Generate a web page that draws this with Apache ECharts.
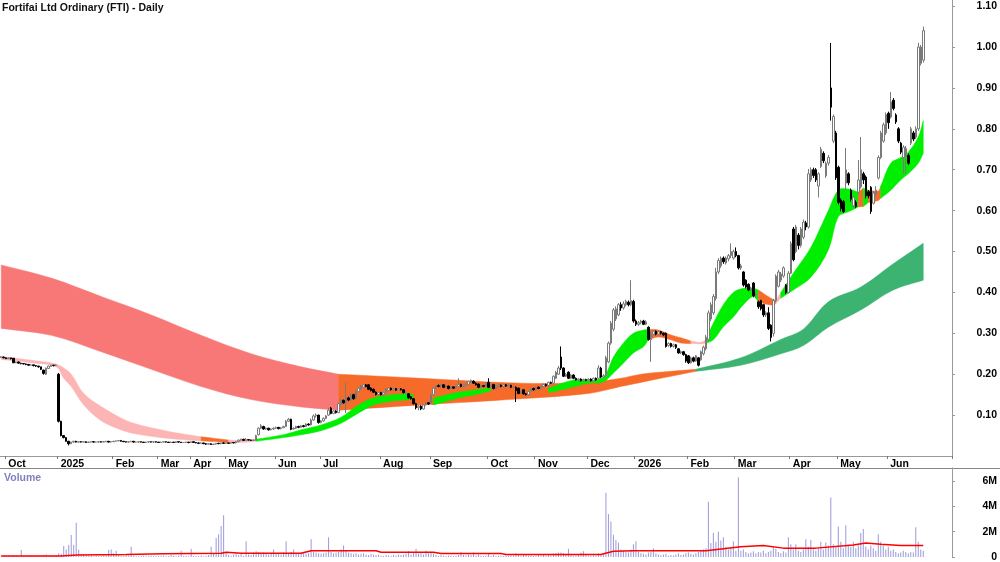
<!DOCTYPE html>
<html>
<head>
<meta charset="utf-8">
<title>Fortifai Ltd Ordinary (FTI) - Daily</title>
<script src="https://cdn.jsdelivr.net/npm/echarts@6.0.0/dist/echarts.min.js"></script>
<style>
  html, body { margin: 0; padding: 0; background: #fff; }
  #chart { width: 1000px; height: 562px; }
</style>
</head>
<body>
<div id="chart"></div>
<script>
// trading days per month bucket (the stock barely traded in late 2024)
const monthKeys = ['2024-09', '2024-10', '2025-01', '2025-02', '2025-03', '2025-04', '2025-05', '2025-06', '2025-07',
  '2025-08', '2025-09', '2025-10', '2025-11', '2025-12', '2026-01', '2026-02', '2026-03', '2026-04', '2026-05', '2026-06']
const monthDays = [2, 21, 22, 18, 13, 14, 20, 18, 24, 20, 23, 19, 21, 19, 21, 19, 22, 19, 20, 26]
const monthLabels = ['', 'Oct', '2025', 'Feb', 'Mar', 'Apr', 'May', 'Jun', 'Jul',
  'Aug', 'Sep', 'Oct', 'Nov', 'Dec', '2026', 'Feb', 'Mar', 'Apr', 'May', 'Jun']

// [open, close, low, high]
const candles = [
  // Sep 24
  [0.242, 0.242, 0.240, 0.244], [0.242, 0.240, 0.239, 0.243],
  // Oct-Dec 24
  [0.240, 0.238, 0.237, 0.241], [0.238, 0.240, 0.237, 0.241], [0.240, 0.238, 0.236, 0.240], [0.239, 0.228, 0.227, 0.239],
  [0.228, 0.230, 0.227, 0.231], [0.230, 0.227, 0.226, 0.231], [0.227, 0.226, 0.224, 0.228], [0.226, 0.225, 0.224, 0.227],
  [0.225, 0.224, 0.222, 0.226], [0.224, 0.222, 0.221, 0.225], [0.222, 0.223, 0.221, 0.224], [0.223, 0.221, 0.219, 0.223],
  [0.221, 0.220, 0.218, 0.222], [0.220, 0.218, 0.216, 0.220], [0.218, 0.212, 0.210, 0.218], [0.210, 0.202, 0.199, 0.211],
  [0.200, 0.215, 0.198, 0.216], [0.214, 0.220, 0.213, 0.221], [0.219, 0.222, 0.218, 0.223], [0.222, 0.221, 0.219, 0.223],
  [0.221, 0.222, 0.220, 0.224],
  // Jan 25
  [0.200, 0.085, 0.082, 0.203], [0.085, 0.050, 0.048, 0.086], [0.050, 0.045, 0.043, 0.051], [0.045, 0.036, 0.035, 0.046],
  [0.036, 0.030, 0.026, 0.037], [0.030, 0.034, 0.029, 0.035], [0.034, 0.036, 0.033, 0.037], [0.036, 0.034, 0.033, 0.037],
  [0.034, 0.035, 0.033, 0.036], [0.035, 0.034, 0.033, 0.036], [0.034, 0.035, 0.034, 0.036], [0.035, 0.033, 0.032, 0.035],
  [0.033, 0.034, 0.033, 0.035], [0.034, 0.035, 0.033, 0.036], [0.035, 0.034, 0.033, 0.035], [0.034, 0.034, 0.033, 0.035],
  [0.034, 0.035, 0.033, 0.036], [0.035, 0.034, 0.033, 0.035], [0.034, 0.035, 0.034, 0.036], [0.035, 0.036, 0.034, 0.037],
  [0.036, 0.034, 0.033, 0.036], [0.034, 0.035, 0.033, 0.036],
  // Feb 25
  [0.035, 0.036, 0.034, 0.037], [0.036, 0.037, 0.035, 0.038], [0.037, 0.038, 0.036, 0.039], [0.038, 0.036, 0.035, 0.038],
  [0.036, 0.035, 0.034, 0.036], [0.035, 0.034, 0.033, 0.035], [0.034, 0.035, 0.033, 0.036], [0.035, 0.036, 0.034, 0.037],
  [0.036, 0.034, 0.033, 0.036], [0.034, 0.034, 0.033, 0.035], [0.034, 0.035, 0.033, 0.035], [0.035, 0.034, 0.033, 0.035],
  [0.034, 0.033, 0.032, 0.034], [0.033, 0.034, 0.032, 0.035], [0.034, 0.035, 0.033, 0.036], [0.035, 0.034, 0.033, 0.035],
  [0.034, 0.035, 0.033, 0.036], [0.035, 0.034, 0.033, 0.035],
  // Mar 25
  [0.034, 0.033, 0.032, 0.034], [0.033, 0.034, 0.032, 0.035], [0.034, 0.035, 0.033, 0.036], [0.035, 0.034, 0.033, 0.035],
  [0.034, 0.033, 0.032, 0.034], [0.033, 0.034, 0.032, 0.035], [0.034, 0.033, 0.032, 0.034], [0.033, 0.035, 0.032, 0.036],
  [0.035, 0.034, 0.033, 0.035], [0.034, 0.033, 0.032, 0.034], [0.033, 0.033, 0.032, 0.034], [0.033, 0.034, 0.032, 0.035],
  [0.034, 0.033, 0.031, 0.034],
  // Apr 25
  [0.033, 0.035, 0.032, 0.036], [0.035, 0.033, 0.032, 0.035], [0.033, 0.032, 0.031, 0.033], [0.032, 0.031, 0.030, 0.033],
  [0.031, 0.032, 0.030, 0.033], [0.032, 0.030, 0.029, 0.032], [0.030, 0.029, 0.027, 0.031], [0.029, 0.030, 0.028, 0.031],
  [0.030, 0.028, 0.027, 0.031], [0.028, 0.029, 0.027, 0.030], [0.029, 0.031, 0.028, 0.032], [0.031, 0.030, 0.029, 0.032],
  [0.030, 0.032, 0.029, 0.033], [0.032, 0.031, 0.030, 0.034],
  // May 25
  [0.031, 0.032, 0.030, 0.033], [0.032, 0.031, 0.030, 0.033], [0.031, 0.033, 0.030, 0.034], [0.033, 0.032, 0.031, 0.034],
  [0.032, 0.035, 0.031, 0.036], [0.035, 0.039, 0.034, 0.040], [0.039, 0.041, 0.037, 0.042], [0.041, 0.038, 0.037, 0.042],
  [0.038, 0.040, 0.037, 0.044], [0.040, 0.039, 0.038, 0.041], [0.039, 0.038, 0.037, 0.040], [0.038, 0.039, 0.037, 0.040],
  [0.039, 0.050, 0.038, 0.052], [0.052, 0.068, 0.050, 0.070], [0.068, 0.074, 0.066, 0.078], [0.072, 0.066, 0.064, 0.074],
  [0.066, 0.068, 0.064, 0.070], [0.068, 0.064, 0.062, 0.069], [0.064, 0.066, 0.063, 0.068], [0.066, 0.068, 0.064, 0.070],
  // Jun 25
  [0.068, 0.070, 0.066, 0.072], [0.070, 0.067, 0.065, 0.071], [0.067, 0.069, 0.065, 0.071], [0.069, 0.072, 0.068, 0.074],
  [0.072, 0.085, 0.071, 0.088], [0.085, 0.090, 0.083, 0.093], [0.090, 0.065, 0.063, 0.091], [0.066, 0.068, 0.064, 0.070],
  [0.068, 0.072, 0.066, 0.074], [0.072, 0.070, 0.068, 0.074], [0.070, 0.074, 0.069, 0.076], [0.074, 0.072, 0.070, 0.076],
  [0.072, 0.078, 0.071, 0.080], [0.078, 0.076, 0.074, 0.080], [0.076, 0.088, 0.075, 0.092], [0.088, 0.098, 0.086, 0.102],
  [0.098, 0.100, 0.094, 0.104], [0.100, 0.082, 0.079, 0.101],
  // Jul 25
  [0.082, 0.086, 0.080, 0.088], [0.086, 0.092, 0.084, 0.094], [0.092, 0.098, 0.090, 0.100], [0.100, 0.112, 0.098, 0.118],
  [0.117, 0.104, 0.102, 0.120], [0.104, 0.110, 0.102, 0.112], [0.110, 0.106, 0.104, 0.112], [0.106, 0.128, 0.105, 0.130],
  [0.125, 0.137, 0.124, 0.140], [0.136, 0.130, 0.128, 0.138], [0.130, 0.142, 0.105, 0.180], [0.142, 0.137, 0.134, 0.145],
  [0.137, 0.150, 0.135, 0.153], [0.150, 0.140, 0.138, 0.152], [0.140, 0.158, 0.139, 0.160], [0.158, 0.166, 0.156, 0.168],
  [0.164, 0.172, 0.162, 0.174], [0.168, 0.174, 0.166, 0.176], [0.174, 0.170, 0.168, 0.176], [0.174, 0.163, 0.161, 0.176],
  [0.166, 0.160, 0.158, 0.168], [0.163, 0.156, 0.154, 0.165], [0.156, 0.150, 0.148, 0.158], [0.150, 0.155, 0.148, 0.157],
  // Aug 25
  [0.155, 0.150, 0.148, 0.157], [0.150, 0.155, 0.148, 0.157], [0.155, 0.164, 0.154, 0.166], [0.160, 0.166, 0.158, 0.168],
  [0.166, 0.162, 0.160, 0.167], [0.162, 0.165, 0.160, 0.167], [0.165, 0.161, 0.159, 0.166], [0.161, 0.164, 0.159, 0.166],
  [0.164, 0.162, 0.160, 0.166], [0.162, 0.155, 0.153, 0.163], [0.155, 0.158, 0.153, 0.160], [0.152, 0.142, 0.140, 0.154],
  [0.145, 0.140, 0.138, 0.147], [0.140, 0.128, 0.126, 0.142], [0.128, 0.118, 0.114, 0.130], [0.118, 0.122, 0.112, 0.124],
  [0.122, 0.115, 0.112, 0.124], [0.115, 0.125, 0.113, 0.127], [0.125, 0.130, 0.123, 0.132], [0.130, 0.127, 0.125, 0.132],
  // Sep 25
  [0.130, 0.150, 0.128, 0.152], [0.150, 0.166, 0.148, 0.168], [0.166, 0.172, 0.164, 0.174], [0.172, 0.170, 0.168, 0.175],
  [0.170, 0.174, 0.168, 0.176], [0.174, 0.168, 0.166, 0.176], [0.168, 0.171, 0.166, 0.173], [0.171, 0.165, 0.163, 0.172],
  [0.165, 0.169, 0.163, 0.171], [0.169, 0.166, 0.164, 0.170], [0.166, 0.170, 0.164, 0.172], [0.170, 0.175, 0.168, 0.190],
  [0.175, 0.170, 0.168, 0.177], [0.170, 0.172, 0.168, 0.174], [0.172, 0.176, 0.170, 0.178], [0.175, 0.182, 0.173, 0.184],
  [0.180, 0.185, 0.178, 0.187], [0.183, 0.178, 0.176, 0.185], [0.178, 0.174, 0.172, 0.180], [0.176, 0.168, 0.166, 0.177],
  [0.168, 0.172, 0.166, 0.174], [0.172, 0.170, 0.168, 0.174], [0.170, 0.178, 0.168, 0.180],
  // Oct 25
  [0.180, 0.168, 0.166, 0.190], [0.168, 0.172, 0.166, 0.174], [0.175, 0.165, 0.163, 0.176], [0.165, 0.170, 0.163, 0.172],
  [0.170, 0.173, 0.168, 0.175], [0.173, 0.170, 0.168, 0.175], [0.170, 0.174, 0.168, 0.176], [0.174, 0.171, 0.169, 0.176],
  [0.171, 0.173, 0.169, 0.175], [0.173, 0.168, 0.166, 0.174], [0.168, 0.168, 0.166, 0.170], [0.168, 0.160, 0.132, 0.170],
  [0.166, 0.153, 0.151, 0.167], [0.153, 0.158, 0.151, 0.160], [0.162, 0.152, 0.150, 0.163], [0.152, 0.150, 0.148, 0.154],
  [0.150, 0.158, 0.148, 0.160], [0.158, 0.165, 0.156, 0.167], [0.165, 0.162, 0.160, 0.167],
  // Nov 25
  [0.162, 0.168, 0.160, 0.170], [0.168, 0.165, 0.163, 0.170], [0.165, 0.170, 0.163, 0.172], [0.170, 0.175, 0.168, 0.177],
  [0.175, 0.172, 0.170, 0.177], [0.172, 0.180, 0.170, 0.182], [0.180, 0.178, 0.176, 0.182], [0.178, 0.195, 0.176, 0.197],
  [0.190, 0.205, 0.188, 0.208], [0.200, 0.215, 0.198, 0.220], [0.242, 0.215, 0.210, 0.268], [0.215, 0.195, 0.193, 0.217],
  [0.195, 0.200, 0.193, 0.203], [0.205, 0.190, 0.188, 0.207], [0.190, 0.198, 0.188, 0.200], [0.198, 0.190, 0.188, 0.200],
  [0.190, 0.186, 0.184, 0.192], [0.186, 0.188, 0.184, 0.190], [0.188, 0.184, 0.182, 0.190], [0.184, 0.187, 0.182, 0.189],
  [0.187, 0.185, 0.183, 0.189],
  // Dec 25
  [0.185, 0.188, 0.183, 0.190], [0.188, 0.184, 0.182, 0.190], [0.184, 0.190, 0.182, 0.192], [0.190, 0.186, 0.184, 0.192],
  [0.190, 0.215, 0.188, 0.222], [0.215, 0.193, 0.190, 0.218], [0.193, 0.196, 0.190, 0.200], [0.196, 0.240, 0.194, 0.245],
  [0.230, 0.276, 0.227, 0.280], [0.276, 0.325, 0.272, 0.330], [0.310, 0.357, 0.305, 0.362], [0.335, 0.360, 0.330, 0.366],
  [0.345, 0.370, 0.342, 0.374], [0.370, 0.362, 0.355, 0.376], [0.362, 0.372, 0.358, 0.378], [0.370, 0.378, 0.366, 0.382],
  [0.376, 0.370, 0.366, 0.380], [0.370, 0.380, 0.366, 0.430], [0.378, 0.330, 0.326, 0.382],
  // Jan 26
  [0.330, 0.322, 0.318, 0.334], [0.322, 0.326, 0.318, 0.330], [0.326, 0.330, 0.322, 0.333], [0.330, 0.322, 0.320, 0.333],
  [0.322, 0.328, 0.320, 0.332], [0.315, 0.285, 0.282, 0.317], [0.285, 0.300, 0.230, 0.304], [0.298, 0.305, 0.294, 0.308],
  [0.305, 0.298, 0.295, 0.307], [0.298, 0.304, 0.295, 0.306], [0.304, 0.300, 0.297, 0.306], [0.300, 0.296, 0.293, 0.302],
  [0.300, 0.268, 0.265, 0.302], [0.270, 0.275, 0.267, 0.278], [0.275, 0.268, 0.265, 0.277], [0.268, 0.272, 0.265, 0.275],
  [0.272, 0.265, 0.262, 0.274], [0.262, 0.252, 0.250, 0.264], [0.252, 0.255, 0.249, 0.258], [0.255, 0.248, 0.245, 0.257],
  [0.248, 0.232, 0.228, 0.250],
  // Feb 26
  [0.245, 0.228, 0.225, 0.247], [0.228, 0.240, 0.226, 0.243], [0.240, 0.232, 0.229, 0.243], [0.232, 0.245, 0.230, 0.247],
  [0.240, 0.222, 0.219, 0.242], [0.235, 0.255, 0.233, 0.258], [0.250, 0.266, 0.246, 0.270], [0.262, 0.290, 0.258, 0.296],
  [0.285, 0.350, 0.282, 0.356], [0.335, 0.370, 0.330, 0.376], [0.350, 0.390, 0.345, 0.396], [0.385, 0.450, 0.380, 0.460],
  [0.450, 0.478, 0.445, 0.484], [0.465, 0.484, 0.460, 0.488], [0.484, 0.475, 0.470, 0.488], [0.472, 0.484, 0.468, 0.488],
  [0.482, 0.490, 0.476, 0.494], [0.490, 0.500, 0.484, 0.520], [0.484, 0.500, 0.480, 0.505],
  // Mar 26
  [0.500, 0.490, 0.486, 0.510], [0.490, 0.460, 0.456, 0.492], [0.460, 0.465, 0.455, 0.470], [0.450, 0.418, 0.414, 0.452],
  [0.430, 0.413, 0.410, 0.432], [0.420, 0.406, 0.403, 0.422], [0.406, 0.410, 0.402, 0.414], [0.423, 0.392, 0.388, 0.425],
  [0.392, 0.396, 0.386, 0.400], [0.377, 0.365, 0.360, 0.380], [0.380, 0.360, 0.356, 0.382], [0.370, 0.345, 0.340, 0.372],
  [0.345, 0.350, 0.340, 0.354], [0.350, 0.312, 0.308, 0.364], [0.320, 0.290, 0.280, 0.322], [0.300, 0.380, 0.292, 0.384],
  [0.380, 0.440, 0.376, 0.444], [0.415, 0.450, 0.412, 0.455], [0.430, 0.445, 0.425, 0.450], [0.440, 0.460, 0.436, 0.464],
  [0.418, 0.400, 0.396, 0.420], [0.400, 0.447, 0.398, 0.452],
  // Apr 26
  [0.447, 0.520, 0.445, 0.525], [0.555, 0.480, 0.476, 0.560], [0.500, 0.560, 0.496, 0.565], [0.540, 0.515, 0.505, 0.545],
  [0.515, 0.555, 0.510, 0.560], [0.535, 0.572, 0.530, 0.578], [0.570, 0.560, 0.552, 0.575], [0.560, 0.690, 0.556, 0.702],
  [0.675, 0.700, 0.670, 0.706], [0.700, 0.686, 0.680, 0.705], [0.700, 0.675, 0.670, 0.704], [0.660, 0.690, 0.632, 0.694],
  [0.708, 0.750, 0.704, 0.756], [0.740, 0.722, 0.716, 0.745], [0.685, 0.716, 0.680, 0.720], [0.716, 0.730, 0.710, 0.736],
  [0.900, 0.853, 0.820, 1.010], [0.770, 0.830, 0.765, 0.835], [0.790, 0.680, 0.675, 0.795],
  // May 26
  [0.706, 0.620, 0.615, 0.710], [0.626, 0.605, 0.598, 0.630], [0.622, 0.598, 0.594, 0.626], [0.667, 0.700, 0.650, 0.753],
  [0.690, 0.668, 0.662, 0.694], [0.650, 0.628, 0.622, 0.654], [0.612, 0.633, 0.608, 0.636], [0.620, 0.610, 0.606, 0.625],
  [0.645, 0.675, 0.640, 0.724], [0.658, 0.700, 0.654, 0.780], [0.690, 0.675, 0.665, 0.695], [0.682, 0.636, 0.630, 0.686],
  [0.646, 0.636, 0.630, 0.650], [0.657, 0.598, 0.592, 0.660], [0.618, 0.643, 0.615, 0.648], [0.640, 0.650, 0.635, 0.660],
  [0.680, 0.730, 0.676, 0.735], [0.730, 0.790, 0.726, 0.795], [0.770, 0.810, 0.766, 0.815], [0.790, 0.835, 0.785, 0.840],
  // Jun 26
  [0.838, 0.815, 0.800, 0.842], [0.829, 0.866, 0.825, 0.890], [0.870, 0.850, 0.845, 0.875], [0.834, 0.817, 0.812, 0.838],
  [0.800, 0.770, 0.765, 0.804], [0.765, 0.743, 0.738, 0.768], [0.730, 0.755, 0.690, 0.760], [0.732, 0.752, 0.690, 0.758],
  [0.735, 0.716, 0.712, 0.740], [0.765, 0.800, 0.760, 0.805], [0.790, 0.775, 0.770, 0.795], [0.780, 0.800, 0.775, 0.806],
  [0.800, 1.000, 0.795, 1.010], [0.960, 1.000, 0.955, 1.005], [0.968, 1.040, 0.962, 1.050]
]

// daily volume, millions
const volumes = [
  0.05, 0.08,
  0.06, 0.1, 0.05, 0.12, 0.08, 0.05, 0.55, 0.1, 0.06, 0.08, 0.12, 0.05, 0.07, 0.1, 0.09, 0.15, 0.2, 0.12, 0.08, 0.1, 0.15,
  0.3, 0.25, 0.87, 0.6, 0.95, 1.73, 0.95, 2.7, 0.6, 0.2, 0.15, 0.1, 0.08, 0.12, 0.06, 0.1, 0.05, 0.08, 0.12, 0.1, 0.55, 0.6,
  0.3, 0.5, 0.15, 0.1, 0.08, 0.12, 0.1, 0.8, 0.1, 0.06, 0.05, 0.08, 0.1, 0.06, 0.05, 0.1, 0.08, 0.06,
  0.05, 0.1, 0.12, 0.06, 0.08, 0.15, 0.1, 0.05, 0.12, 0.5, 0.1, 0.08, 0.06,
  0.65, 0.1, 0.05, 0.08, 0.12, 0.06, 0.1, 0.15, 0.8, 0.3, 1.5, 1.8, 2.45, 3.3,
  0.4, 0.15, 0.1, 0.2, 0.3, 0.15, 0.25, 0.1, 1.25, 0.2, 0.15, 0.35, 0.45, 0.4, 0.3, 0.35, 0.25, 0.2, 0.3, 0.6,
  0.25, 0.3, 0.2, 0.35, 1.25, 0.3, 0.4, 0.6, 0.3, 0.25, 0.35, 0.3, 0.25, 0.3, 1.4, 0.4, 0.35, 0.3,
  0.25, 0.3, 0.35, 1.55, 0.4, 0.3, 0.35, 0.4, 0.6, 0.9, 0.5, 0.35, 0.3, 0.25, 0.3, 0.2, 0.25, 0.3, 0.2, 0.15, 0.25, 0.2, 0.15, 0.2,
  0.1, 0.08, 0.15, 0.12, 0.1, 0.15, 0.12, 0.2, 0.15, 0.2, 0.25, 0.45, 0.2, 0.3, 0.65, 0.25, 0.3, 0.2, 0.5, 0.3,
  0.35, 0.25, 0.15, 0.1, 0.15, 0.1, 0.08, 0.12, 0.1, 0.08, 0.1, 0.15, 0.4, 0.15, 0.12, 0.2, 0.15, 0.35, 0.12, 0.2, 0.1, 0.08, 0.12,
  0.3, 0.1, 0.15, 0.08, 0.1, 0.12, 0.06, 0.1, 0.08, 0.12, 0.1, 0.3, 0.2, 0.1, 0.15, 0.2, 0.1, 0.12, 0.08,
  0.1, 0.15, 0.12, 0.2, 0.1, 0.15, 0.12, 0.25, 0.3, 0.35, 0.35, 0.3, 0.2, 0.65, 0.15, 0.1, 0.12, 0.2, 0.35, 0.45, 0.15,
  0.1, 0.08, 0.12, 0.1, 0.3, 0.2, 0.25, 5.06, 3.4, 2.8, 1.75, 1.35, 1.15, 0.6, 0.5, 0.4, 0.35, 0.6, 1.0,
  1.25, 0.4, 0.3, 0.25, 0.2, 0.35, 0.4, 0.7, 0.3, 0.2, 0.15, 0.2, 0.25, 0.1, 0.15, 0.12, 0.2, 0.3, 0.15, 0.2, 0.3,
  0.35, 0.25, 0.2, 0.3, 0.4, 0.5, 0.6, 0.7, 4.35, 1.1, 1.9, 1.2, 2.0, 1.3, 1.55, 0.8, 0.6, 0.7, 1.25,
  0.5, 6.3, 0.5, 0.6, 0.4, 0.3, 0.35, 0.45, 0.3, 0.4, 0.35, 0.5, 0.3, 0.4, 0.5, 0.8, 0.65, 0.4, 0.3, 0.45, 0.35, 1.55,
  1.0, 0.6, 1.0, 0.5, 0.4, 0.6, 1.4, 0.8, 1.35, 0.6, 0.5, 0.7, 1.2, 0.6, 1.15, 0.9, 4.7, 1.0, 0.8,
  2.4, 1.2, 0.7, 2.5, 0.9, 0.8, 1.2, 0.7, 0.9, 1.9, 2.2, 0.8, 0.6, 0.9, 0.7, 0.5, 1.8, 1.2, 0.9, 0.6,
  0.8, 0.5, 0.6, 0.4, 0.3, 0.35, 0.5, 0.4, 0.3, 0.4, 0.35, 2.35, 1.2, 0.6, 0.5
]

// volume average line, [day index, millions]
const volumeAvg = [[0, 0.08], [24, 0.08], [30, 0.15], [50, 0.2], [65, 0.25], [88, 0.3], [90, 0.38], [96, 0.3],
  [120, 0.3], [124, 0.5], [150, 0.5], [152, 0.38], [173, 0.38], [176, 0.27], [200, 0.27], [202, 0.2], [240, 0.2],
  [245, 0.45], [253, 0.5], [282, 0.5], [296, 0.8], [305, 0.9], [313, 0.7], [326, 0.7], [341, 0.95], [346, 1.1],
  [352, 1.0], [360, 0.9], [369, 0.9]]

// long-term average ribbon, [day index, low, high, trend]
const longBand = [[0, 0.312, 0.467, 'bear'], [20, 0.295, 0.435, 'bear'], [40, 0.255, 0.39, 'bear'],
  [60, 0.212, 0.345, 'bear'], [80, 0.17, 0.295, 'bear'], [100, 0.138, 0.25, 'bear'], [120, 0.12, 0.218, 'bear'],
  [135, 0.112, 0.2, 'flat'], [168, 0.125, 0.19, 'flat'], [208, 0.14, 0.178, 'flat'], [235, 0.153, 0.18, 'flat'],
  [248, 0.17, 0.19, 'flat'], [256, 0.18, 0.2, 'flat'], [268, 0.195, 0.207, 'flat'], [278, 0.207, 0.212, 'bull'],
  [296, 0.222, 0.24, 'bull'], [312, 0.25, 0.285, 'bull'], [321, 0.27, 0.31, 'bull'], [331, 0.315, 0.377, 'bull'],
  [344, 0.357, 0.413, 'bull'], [357, 0.406, 0.47, 'bull'], [369, 0.43, 0.52, 'bull']]

// short-term average ribbon, [day index, low, high, trend]
const shortBand = [[0, 0.236, 0.243, 'weak'], [12, 0.228, 0.234, 'weak'], [22, 0.218, 0.225, 'weak'],
  [25, 0.19, 0.215, 'weak'], [28, 0.17, 0.2, 'weak'], [33, 0.125, 0.153, 'weak'], [40, 0.086, 0.121, 'weak'],
  [47, 0.066, 0.096, 'weak'], [53, 0.055, 0.08, 'weak'], [67, 0.043, 0.06, 'weak'], [80, 0.037, 0.047, 'down'],
  [91, 0.033, 0.039, 'weak'], [96, 0.033, 0.038, 'weak'], [102, 0.036, 0.041, 'up'], [113, 0.045, 0.052, 'up'],
  [120, 0.052, 0.064, 'up'], [128, 0.062, 0.076, 'up'], [136, 0.08, 0.095, 'up'], [143, 0.105, 0.125, 'up'],
  [149, 0.125, 0.142, 'up'], [156, 0.134, 0.149, 'up'], [162, 0.137, 0.152, 'up'], [165, 0.14, 0.15, 'down'],
  [173, 0.125, 0.142, 'up'], [183, 0.142, 0.156, 'up'], [189, 0.149, 0.161, 'up'], [196, 0.159, 0.166, 'down'],
  [208, 0.16, 0.165, 'down'], [219, 0.155, 0.166, 'up'], [229, 0.169, 0.186, 'up'], [235, 0.178, 0.186, 'up'],
  [241, 0.181, 0.193, 'up'], [245, 0.203, 0.242, 'up'], [249, 0.227, 0.276, 'up'], [253, 0.252, 0.3, 'up'],
  [257, 0.267, 0.308, 'up'], [259, 0.284, 0.31, 'down'], [263, 0.291, 0.308, 'down'], [268, 0.284, 0.296, 'down'],
  [272, 0.276, 0.289, 'down'], [276, 0.275, 0.281, 'weak'], [280, 0.274, 0.278, 'weak'], [282, 0.275, 0.285, 'up'],
  [285, 0.284, 0.325, 'up'], [289, 0.316, 0.37, 'up'], [293, 0.34, 0.4, 'up'], [297, 0.37, 0.41, 'up'],
  [301, 0.39, 0.41, 'up'], [303, 0.377, 0.406, 'down'], [308, 0.369, 0.386, 'down'], [310, 0.373, 0.38, 'weak'],
  [312, 0.386, 0.4, 'up'], [317, 0.406, 0.447, 'up'], [324, 0.437, 0.51, 'up'], [331, 0.504, 0.6, 'up'],
  [335, 0.585, 0.65, 'up'], [339, 0.597, 0.653, 'up'], [343, 0.609, 0.645, 'down'], [345, 0.61, 0.655, 'up'],
  [347, 0.62, 0.65, 'down'], [351, 0.625, 0.648, 'down'], [352, 0.63, 0.66, 'up'], [356, 0.65, 0.716, 'up'],
  [360, 0.675, 0.73, 'up'], [363, 0.69, 0.743, 'up'], [367, 0.716, 0.78, 'up'], [369, 0.74, 0.82, 'up']]

const FONT = 'Liberation Sans, Arial, sans-serif'
const trendColors = {
  weak: '#fcb4b4', down: '#f76b2a', up: '#00ee00',
  bear: '#f87878', flat: '#f76b2a', bull: '#3cb371'
}

const categories = []
const labelAt = {}
monthKeys.forEach((key, m) => {
  if (monthLabels[m]) labelAt[categories.length] = monthLabels[m]
  for (let d = 1; d <= monthDays[m]; d++) {
    categories.push(key + '-' + String(d).padStart(2, '0'))
  }
})
const isMonthStart = (i) => labelAt[i] !== undefined

// split a ribbon into runs of one trend colour: [firstSample, lastSample]
function trendRuns (samples) {
  const runs = []
  let start = 0
  for (let k = 1; k < samples.length; k++) {
    if (k === samples.length - 1 || samples[k][3] !== samples[start][3]) {
      runs.push([start, k])
      start = k
    }
  }
  return runs
}

function ribbon (samples, z) {
  const runs = trendRuns(samples)
  return {
    type: 'custom',
    xAxisIndex: 0,
    yAxisIndex: 0,
    z: z,
    silent: true,
    data: runs.map(r => [samples[r[0]][0], samples[r[0]][1], samples[r[0]][2]]),
    encode: { x: 0, y: [1, 2] },
    renderItem: function (params, api) {
      const run = runs[params.dataIndex]
      const top = []
      const bottom = []
      for (let k = run[0]; k <= run[1]; k++) {
        top.push(api.coord([samples[k][0], samples[k][2]]))
        bottom.unshift(api.coord([samples[k][0], samples[k][1]]))
      }
      // doubled corner points keep the run ends straight while the edges are smoothed
      const points = [top[0]].concat(top, [top[top.length - 1], bottom[0]], bottom, [bottom[bottom.length - 1]])
      const color = trendColors[samples[run[0]][3]]
      return {
        type: 'polygon',
        shape: { points: points, smooth: 0.35 },
        style: { fill: color, stroke: color, lineWidth: 0.5 }
      }
    }
  }
}

const chart = echarts.init(document.getElementById('chart'))

chart.setOption({
  animation: false,
  backgroundColor: '#fff',
  title: {
    text: 'Fortifai Ltd Ordinary (FTI) - Daily',
    left: 2,
    top: 3,
    padding: 0,
    textStyle: { fontSize: 10.5, fontWeight: 'bold', color: '#111', fontFamily: FONT }
  },
  graphic: [
    { type: 'line', shape: { x1: 0, y1: 468.5, x2: 1000, y2: 468.5 }, style: { stroke: '#888', lineWidth: 1 }, silent: true },
    { type: 'text', left: 4, top: 473, style: { text: 'Volume', fill: '#8080c0', font: 'bold 10.5px ' + FONT }, silent: true }
  ],
  grid: [
    { left: 0, right: 48, top: 0, height: 456, containLabel: false, outerBoundsMode: 'none' },
    { left: 0, right: 48, top: 468, height: 89, containLabel: false, outerBoundsMode: 'none' }
  ],
  xAxis: [
    {
      type: 'category',
      gridIndex: 0,
      data: categories,
      boundaryGap: true,
      axisLine: { show: true, lineStyle: { color: '#999' } },
      axisTick: { show: true, interval: isMonthStart, length: 3, lineStyle: { color: '#777' } },
      axisLabel: {
        interval: isMonthStart,
        formatter: (v, i) => labelAt[i] || '',
        align: 'left',
        margin: 3,
        padding: [0, 0, 0, 2],
        hideOverlap: false,
        color: '#000',
        fontWeight: 'bold',
        fontSize: 10.5,
        fontFamily: FONT
      },
      splitLine: { show: false }
    },
    {
      type: 'category',
      gridIndex: 1,
      data: categories,
      boundaryGap: true,
      axisLine: { show: false },
      axisTick: { show: false },
      axisLabel: { show: false },
      splitLine: { show: false }
    }
  ],
  yAxis: [
    {
      type: 'value',
      gridIndex: 0,
      position: 'right',
      min: 0,
      max: 1.115,
      interval: 0.1,
      axisLine: { show: true, lineStyle: { color: '#999' } },
      axisTick: { show: true, length: 3, lineStyle: { color: '#999' } },
      splitLine: { show: false },
      axisLabel: {
        showMinLabel: false,
        showMaxLabel: false,
        align: 'right',
        margin: 45,
        color: '#000',
        fontWeight: 'bold',
        fontSize: 10.5,
        fontFamily: FONT,
        formatter: v => v.toFixed(2)
      }
    },
    {
      type: 'value',
      gridIndex: 1,
      position: 'right',
      min: 0,
      max: 7.02,
      interval: 2,
      axisLine: { show: true, lineStyle: { color: '#999' } },
      axisTick: { show: true, length: 3, lineStyle: { color: '#999' } },
      splitLine: { show: false },
      axisLabel: {
        showMaxLabel: false,
        align: 'right',
        margin: 45,
        color: '#000',
        fontWeight: 'bold',
        fontSize: 10.5,
        fontFamily: FONT,
        formatter: v => (v === 0 ? '0' : v + 'M')
      }
    }
  ],
  series: [
    ribbon(longBand, 1),
    ribbon(shortBand, 2),
    {
      type: 'candlestick',
      xAxisIndex: 0,
      yAxisIndex: 0,
      data: candles,
      barWidth: 2,
      z: 5,
      silent: true,
      itemStyle: {
        color: '#ffffff',
        color0: '#000000',
        borderColor: '#7a7a7a',
        borderColor0: '#000000',
        borderWidth: 1
      }
    },
    {
      type: 'bar',
      xAxisIndex: 1,
      yAxisIndex: 1,
      data: volumes,
      barWidth: 1,
      silent: true,
      itemStyle: { color: '#9a9ad8' }
    },
    {
      type: 'line',
      xAxisIndex: 1,
      yAxisIndex: 1,
      data: volumeAvg,
      symbol: 'none',
      silent: true,
      z: 4,
      lineStyle: { color: '#ff0000', width: 1.5 }
    }
  ]
})
</script>
</body>
</html>
